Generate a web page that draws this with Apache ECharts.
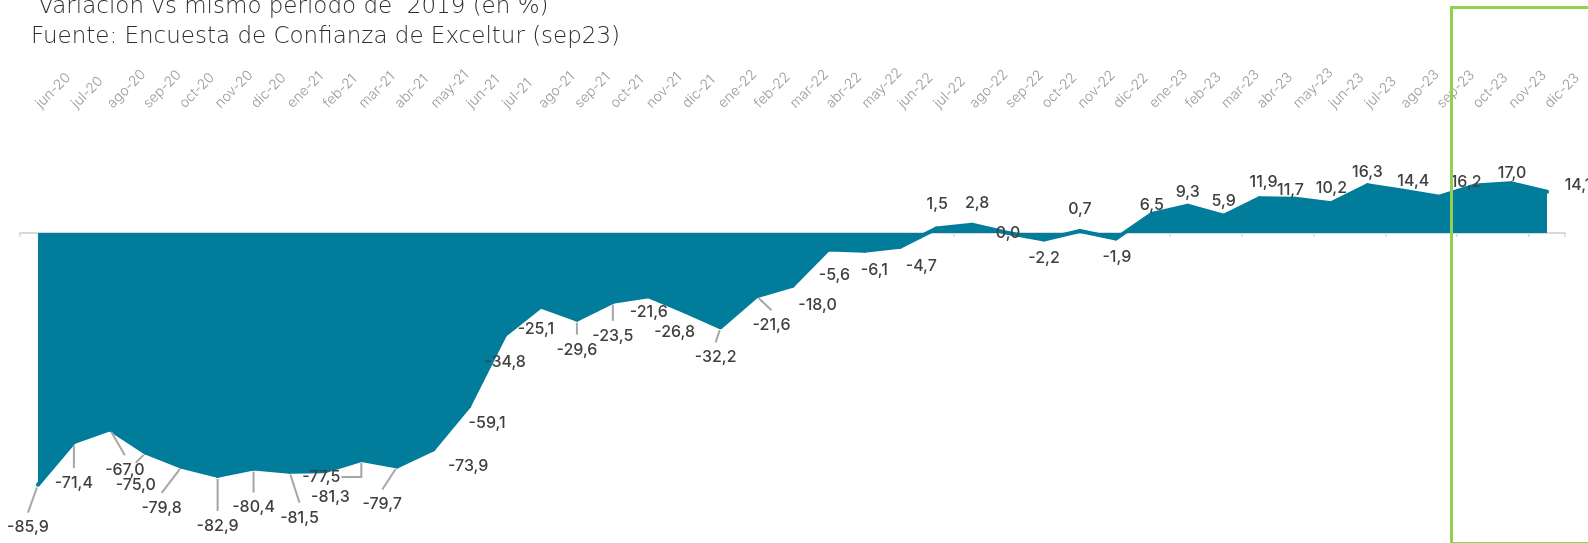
<!DOCTYPE html>
<html>
<head>
<meta charset="utf-8">
<script src="https://cdn.jsdelivr.net/npm/echarts@6/dist/echarts.min.js"></script>
<style>html,body{margin:0;padding:0;background:#fff;}#c{width:1588px;height:543px;}</style>
</head>
<body>
<div id="c"></div>
<script>
const categories = ['jun-20','jul-20','ago-20','sep-20','oct-20','nov-20','dic-20',
  'ene-21','feb-21','mar-21','abr-21','may-21','jun-21','jul-21','ago-21','sep-21','oct-21','nov-21','dic-21',
  'ene-22','feb-22','mar-22','abr-22','may-22','jun-22','jul-22','ago-22','sep-22','oct-22','nov-22','dic-22',
  'ene-23','feb-23','mar-23','abr-23','may-23','jun-23','jul-23','ago-23','sep-23','oct-23','nov-23','dic-23'];
const values = [-85.9,-71.4,-67.0,-75.0,-79.8,-82.9,-80.4,-81.5,-81.3,-77.5,-79.7,-73.9,-59.1,-34.8,-25.1,-29.6,-23.5,-21.6,-26.8,-32.2,-21.6,-18.0,-5.6,-6.1,-4.7,1.5,2.8,0.0,-2.2,0.7,-1.9,6.5,9.3,5.9,11.9,11.7,10.2,16.3,14.4,12.4,16.2,17.0,14.1];
// label placement (pixel offsets from the point), null = label not shown
const labelOffsets = [[-10,43],[0,41],[15,41],[-10,32],[-20,41],[0,50],[0,39],[10,46],[5,26],[-40,17],[-15,38],[35,17],[18,17],[0,27],[-5,23],[0,30],[0,34],[0,16],[-10,21],[-5,30],[15,29],[25,19],[6,26],[10,19],[21,19],[1,-24],[5,-22],[0,0],[0,19],[0,-22],[1,19],[0,-9],[0,-14],[0,-15],[4,-16],[-5,-9],[0,-15],[0,-13],[10,-10],null,[-9,-3],[1,-10],[31,-6]];
const leaderStraight = [0,1,2,3,4,5,6,7,10,15,16,19,20];
const leaderElbow = [9];

const TEAL = '#017d9b';
const FONT = 'Inter';
const fmt = v => v.toFixed(1).replace('.', ',');

const seriesData = values.map((v, i) => {
  const off = labelOffsets[i];
  return off ? { value: v, label: { show: true, offset: off } } : { value: v, label: { show: false } };
});
const leaderData = leaderStraight.map(i => [i, values[i], 0]).concat(leaderElbow.map(i => [i, values[i], 1]));

const chart = echarts.init(document.getElementById('c'));
chart.setOption({
  animation: false,
  title: {
    text: ' Variación vs mismo período de  2019 (en %)\nFuente: Encuesta de Confianza de Exceltur (sep23)',
    left: 31, top: -8, padding: 0,
    textStyle: { fontFamily: 'DejaVu Sans', fontSize: 23, fontWeight: 300, color: '#2e2e2e', lineHeight: 30 }
  },
  grid: { left: 20, right: 23, top: 115.8, bottom: 46.3 },
  xAxis: [{
    type: 'category', data: categories, boundaryGap: true, position: 'bottom',
    axisLine: { onZero: true, lineStyle: { color: '#d9d9d9', width: 2 } },
    axisTick: { show: true, length: 4, lineStyle: { color: '#d9d9d9', width: 1.5 } },
    axisLabel: { show: false }
  }, {
    type: 'category', data: categories, boundaryGap: true, position: 'top',
    axisLine: { show: false, onZero: false }, axisTick: { show: false },
    axisLabel: { rotate: -45, margin: 10, color: '#9a9a9a', fontFamily: FONT, fontSize: 14, fontWeight: 300, interval: 0 }
  }],
  yAxis: { type: 'value', min: -90, max: 40, show: false, splitLine: { show: false } },
  series: [{
    type: 'line', xAxisIndex: 0, data: seriesData,
    symbol: 'circle', symbolSize: 4, showSymbol: true,
    itemStyle: { color: TEAL },
    lineStyle: { color: TEAL, width: 4 },
    areaStyle: { color: TEAL, opacity: 1 },
    label: {
      show: true, position: 'inside',
      formatter: p => fmt(p.value),
      color: '#404040', fontFamily: FONT, fontSize: 16, fontWeight: 500
    },
    z: 2
  }, {
    type: 'custom', xAxisIndex: 0, data: leaderData, clip: false, z: 3, silent: true,
    renderItem: (params, api) => {
      const i = api.value(0), v = api.value(1), kind = api.value(2);
      const P = api.coord([i, v]);
      const off = labelOffsets[i];
      const L = [P[0] + off[0], P[1] + off[1]];
      const style = { stroke: '#a6a6a6', lineWidth: 2, fill: null };
      if (kind === 1) {
        return { type: 'polyline', shape: { points: [[P[0], P[1] + 3], [P[0], L[1]], [L[0] + 20, L[1]]] }, style };
      }
      const gap = (i === 3) ? 22 : 15;
      const E = [L[0], L[1] - gap];
      const dx = E[0] - P[0], dy = E[1] - P[1];
      const len = Math.sqrt(dx * dx + dy * dy) || 1;
      return { type: 'line', shape: { x1: P[0] + dx / len * 3, y1: P[1] + dy / len * 3, x2: E[0], y2: E[1] }, style };
    }
  }],
  graphic: [{
    type: 'rect', left: 1449, top: 5, z: 10,
    shape: { x: 0, y: 0, width: 200, height: 536 },
    style: { fill: null, stroke: '#92d050', lineWidth: 3 }
  }]
});
</script>
</body>
</html>
